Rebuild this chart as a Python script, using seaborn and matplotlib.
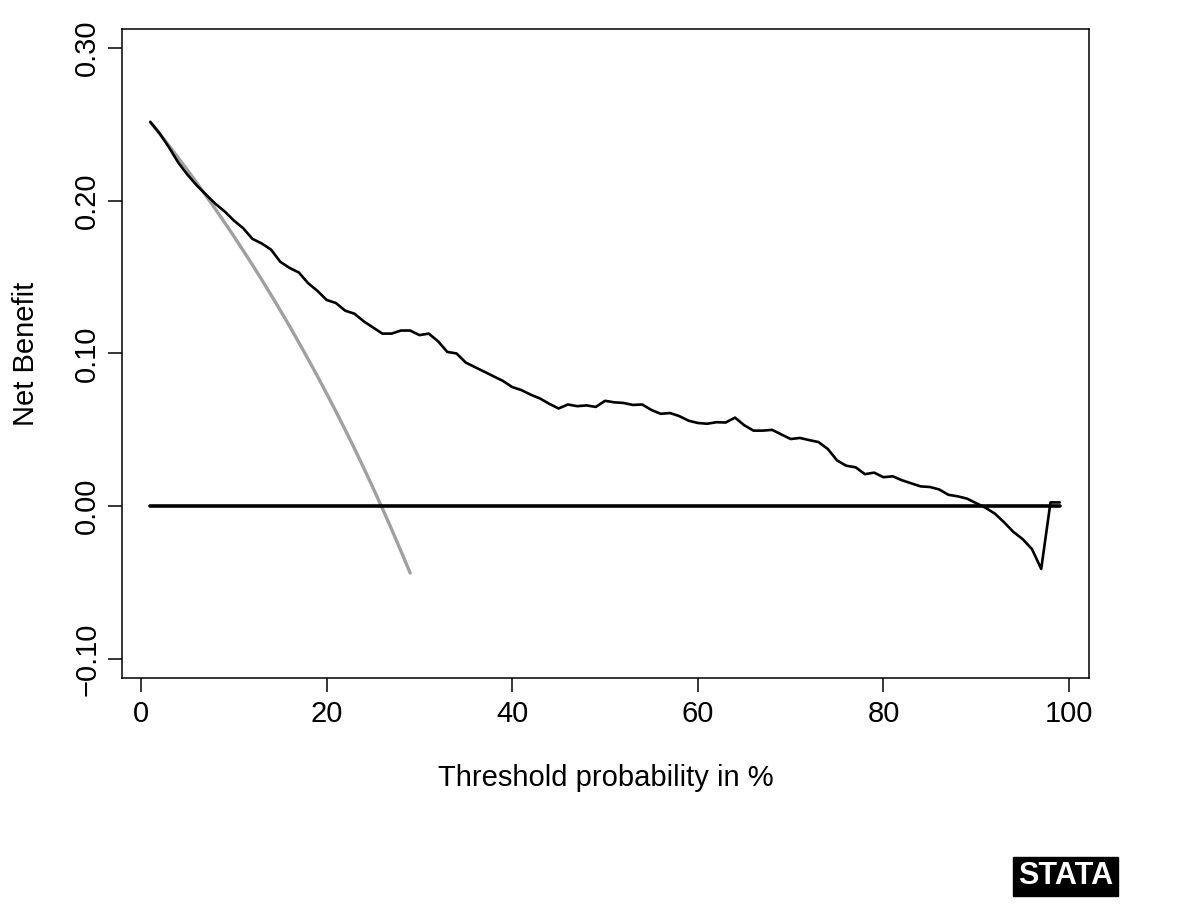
import numpy as np
import pandas as pd
import matplotlib
matplotlib.use("Agg")
import matplotlib.pyplot as plt
import seaborn as sns

# threshold probability in % (1..99)
threshold = list(range(1, 100))

# net benefit of the model (black curve)
nb_model = [
    0.2515, 0.244, 0.235, 0.225, 0.217, 0.210, 0.204, 0.198, 0.193, 0.187,
    0.182, 0.175, 0.172, 0.168, 0.160, 0.156, 0.153, 0.146, 0.141, 0.135,
    0.133, 0.128, 0.126, 0.121, 0.117, 0.113, 0.113, 0.115, 0.115, 0.112,
    0.113, 0.108, 0.101, 0.100, 0.094, 0.091, 0.088, 0.085, 0.082, 0.078,
    0.076, 0.073, 0.0705, 0.067, 0.064, 0.0666, 0.0655, 0.066, 0.065, 0.069,
    0.068, 0.0676, 0.0663, 0.0666, 0.063, 0.0605, 0.061, 0.059, 0.056, 0.0545,
    0.054, 0.055, 0.0548, 0.058, 0.053, 0.0495, 0.0495, 0.050, 0.047, 0.044,
    0.0447, 0.0433, 0.042, 0.0375, 0.030, 0.0265, 0.0255, 0.021, 0.022, 0.019,
    0.0196, 0.017, 0.015, 0.013, 0.0126, 0.011, 0.0075, 0.0065, 0.005, 0.002,
    -0.001, -0.0048, -0.0105, -0.0168, -0.0215, -0.028, -0.041, 0.0025, 0.0025,
]

# net benefit of "treat all" (grey curve), thresholds 1..29
threshold_all = list(range(1, 30))
nb_all = [
    0.2515, 0.2439, 0.2361, 0.2281, 0.2200, 0.2117, 0.2032, 0.1946, 0.1857, 0.1767,
    0.1674, 0.1580, 0.1483, 0.1384, 0.1282, 0.1179, 0.1072, 0.0963, 0.0852, 0.0737,
    0.0620, 0.0500, 0.0377, 0.0250, 0.0120, -0.0014, -0.0151, -0.0292, -0.0437,
]

# "treat none" line
nb_none = [0.0] * len(threshold)

x_ticks = [0, 20, 40, 60, 80, 100]
y_ticks = [-0.10, 0.00, 0.10, 0.20, 0.30]

sns.set_style("white")
plt.rcParams['font.family'] = ['Liberation Sans', 'DejaVu Sans']
plt.rcParams['text.color'] = 'black'
plt.rcParams['axes.labelcolor'] = 'black'
plt.rcParams['xtick.color'] = 'black'
plt.rcParams['ytick.color'] = 'black'

fig = plt.figure(figsize=(12, 9.07), dpi=100)
ax = fig.add_axes([0.1017, 0.2525, 0.8058, 0.7156])

sns.lineplot(x=threshold_all, y=nb_all, color="#a0a0a0", linewidth=2.4, ax=ax)
sns.lineplot(x=threshold, y=nb_none, color="black", linewidth=2.6, ax=ax)
sns.lineplot(x=threshold, y=nb_model, color="black", linewidth=1.9, ax=ax)

ax.set_xlim(-2.05, 102.15)
ax.set_ylim(-0.1124, 0.3124)
ax.set_xticks(x_ticks)
ax.set_xticklabels([str(v) for v in x_ticks])
ax.set_yticks(y_ticks)
ax.set_yticklabels([f"{v:.2f}".replace("-", "\u2212") for v in y_ticks],
                   rotation=90, va="center")

ax.tick_params(axis="both", which="major", direction="out", length=10,
               width=1.1, color="black", labelcolor="black", labelsize=21,
               left=True, bottom=True)
ax.tick_params(axis="x", pad=6)
ax.tick_params(axis="y", pad=5)

for sp in ax.spines.values():
    sp.set_visible(True)
    sp.set_color("black")
    sp.set_linewidth(1.1)

ax.set_xlabel("Threshold probability in %", fontsize=21, labelpad=26)
ax.set_ylabel("Net Benefit", fontsize=21, labelpad=24)

# Stata logo
fig.text(0.888, 0.034, "STATA", color="white", fontsize=22, fontweight="bold",
         ha="center", va="center",
         bbox=dict(boxstyle="square,pad=0.15", facecolor="black", edgecolor="black"))

fig.savefig("out.png", dpi=100)
plt.close(fig)
